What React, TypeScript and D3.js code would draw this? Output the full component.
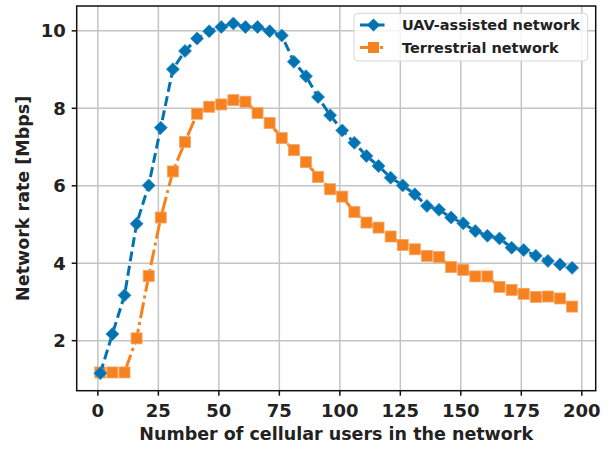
import React from "react";
import * as d3 from "d3";

const users = [1, 6, 11, 16, 21, 26, 31, 36, 41, 46, 51, 56, 61, 66, 71, 76, 81, 86, 91, 96, 101, 106, 111, 116, 121, 126, 131, 136, 141, 146, 151, 156, 161, 166, 171, 176, 181, 186, 191, 196];
const uavRate = [1.16, 2.17, 3.17, 5.02, 6.01, 7.5, 9.01, 9.48, 9.8, 9.99, 10.1, 10.19, 10.1, 10.1, 9.99, 9.88, 9.2, 8.83, 8.29, 7.82, 7.43, 7.11, 6.77, 6.51, 6.21, 6.01, 5.78, 5.48, 5.38, 5.18, 5.03, 4.83, 4.71, 4.64, 4.4, 4.34, 4.19, 4.06, 3.97, 3.88];
const terrRate = [1.18, 1.18, 1.18, 2.06, 3.67, 5.18, 6.37, 7.13, 7.86, 8.04, 8.1, 8.21, 8.17, 7.88, 7.62, 7.23, 6.92, 6.61, 6.23, 5.91, 5.72, 5.32, 5.05, 4.92, 4.69, 4.47, 4.36, 4.19, 4.16, 3.9, 3.83, 3.66, 3.66, 3.39, 3.31, 3.21, 3.13, 3.14, 3.09, 2.88];
const xTicks = [0, 25, 50, 75, 100, 125, 150, 175, 200];
const yTicks = [2, 4, 6, 8, 10];
const seriesNames = ["UAV-assisted network", "Terrestrial network"];

const BLUE = "#0173b2";
const ORANGE = "#f5821f";
const FONT = "'DejaVu Sans', sans-serif";

export default function App() {
  const W = 616, H = 449;
  const L = 76.7, R = 595.7, T = 6, B = 390.7;
  const xExt = d3.extent(users) as [number, number];
  const xm = (xExt[1] - xExt[0]) * 0.05;
  const allY = uavRate.concat(terrRate);
  const yExt = d3.extent(allY) as [number, number];
  const ym = (yExt[1] - yExt[0]) * 0.05;
  const x = d3.scaleLinear().domain([xExt[0] - xm, xExt[1] + xm]).range([L, R]);
  const y = d3.scaleLinear().domain([yExt[0] - ym, yExt[1] + ym]).range([B, T]);

  const line = d3.line<number>().x((_, i) => x(users[i])).y((d) => y(d));
  const ds = 6.5;
  const sq = 5.5;

  return (
    <svg width={W} height={H} style={{ display: "block", position: "absolute", left: 0, top: 0 }} fontFamily={FONT}>
      <rect x={0} y={0} width={W} height={H} fill="#fff" />
      <defs>
        <clipPath id="plot">
          <rect x={L} y={T} width={R - L} height={B - T} />
        </clipPath>
      </defs>
      {/* grid */}
      {xTicks.map((t) => (
        <line key={"gx" + t} x1={x(t)} x2={x(t)} y1={T} y2={B} stroke="#c4c4c4" strokeWidth={1.5} />
      ))}
      {yTicks.map((t) => (
        <line key={"gy" + t} x1={L} x2={R} y1={y(t)} y2={y(t)} stroke="#c4c4c4" strokeWidth={1.5} />
      ))}
      <g clipPath="url(#plot)">
        <path d={line(terrRate) || ""} fill="none" stroke={ORANGE} strokeWidth={3} strokeDasharray="16 4 3 4" />
        {terrRate.map((v, i) => (
          <rect key={"s" + i} x={x(users[i]) - sq} y={y(v) - sq} width={sq * 2} height={sq * 2} fill={ORANGE} stroke="#f8a464" strokeWidth={0.8} />
        ))}
        <path d={line(uavRate) || ""} fill="none" stroke={BLUE} strokeWidth={3} strokeDasharray="10 4.5" />
        {uavRate.map((v, i) => {
          const cx = x(users[i]), cy = y(v);
          return (
            <path key={"d" + i} d={`M${cx},${cy - ds}L${cx + ds},${cy}L${cx},${cy + ds}L${cx - ds},${cy}Z`} fill={BLUE} stroke="#3a8fc4" strokeWidth={0.8} />
          );
        })}
      </g>
      {/* spines */}
      <rect x={L} y={T} width={R - L} height={B - T} fill="none" stroke="#111" strokeWidth={1.5} />
      {/* x ticks */}
      {xTicks.map((t) => (
        <g key={"xt" + t}>
          <line x1={x(t)} x2={x(t)} y1={B} y2={B + 5} stroke="#111" strokeWidth={1.5} />
          <text x={x(t)} y={B + 26} textAnchor="middle" fontSize={18} fontWeight="bold" fill="#222">{t}</text>
        </g>
      ))}
      {yTicks.map((t) => (
        <g key={"yt" + t}>
          <line x1={L - 5} x2={L} y1={y(t)} y2={y(t)} stroke="#111" strokeWidth={1.5} />
          <text x={L - 11} y={y(t) + 6.6} textAnchor="end" fontSize={18} fontWeight="bold" fill="#222">{t}</text>
        </g>
      ))}
      <text x={(L + R) / 2} y={440} textAnchor="middle" fontSize={17.5} fontWeight="bold" fill="#222">Number of cellular users in the network</text>
      <text transform={`translate(28.5,${(T + B) / 2}) rotate(-90)`} textAnchor="middle" fontSize={17.5} fontWeight="bold" fill="#222">Network rate [Mbps]</text>
      {/* legend */}
      <g>
        <rect x={354} y={13.3} width={233.7} height={47.7} rx={4} fill="#fff" fillOpacity={0.8} stroke="#d6d6d6" strokeWidth={1} />
        <line x1={360} x2={387} y1={25} y2={25} stroke={BLUE} strokeWidth={3} strokeDasharray="10 4.5" />
        <path d={`M373.5,${25 - ds}L${373.5 + ds},25L373.5,${25 + ds}L${373.5 - ds},25Z`} fill={BLUE} />
        <text x={402} y={30.2} fontSize={14.5} fontWeight="bold" fill="#222">{seriesNames[0]}</text>
        <line x1={360} x2={387} y1={47.5} y2={47.5} stroke={ORANGE} strokeWidth={3} strokeDasharray="16 4 3 4" />
        <rect x={373.5 - sq} y={47.5 - sq} width={sq * 2} height={sq * 2} fill={ORANGE} />
        <text x={402} y={52.7} fontSize={14.5} fontWeight="bold" fill="#222">{seriesNames[1]}</text>
      </g>
    </svg>
  );
}
